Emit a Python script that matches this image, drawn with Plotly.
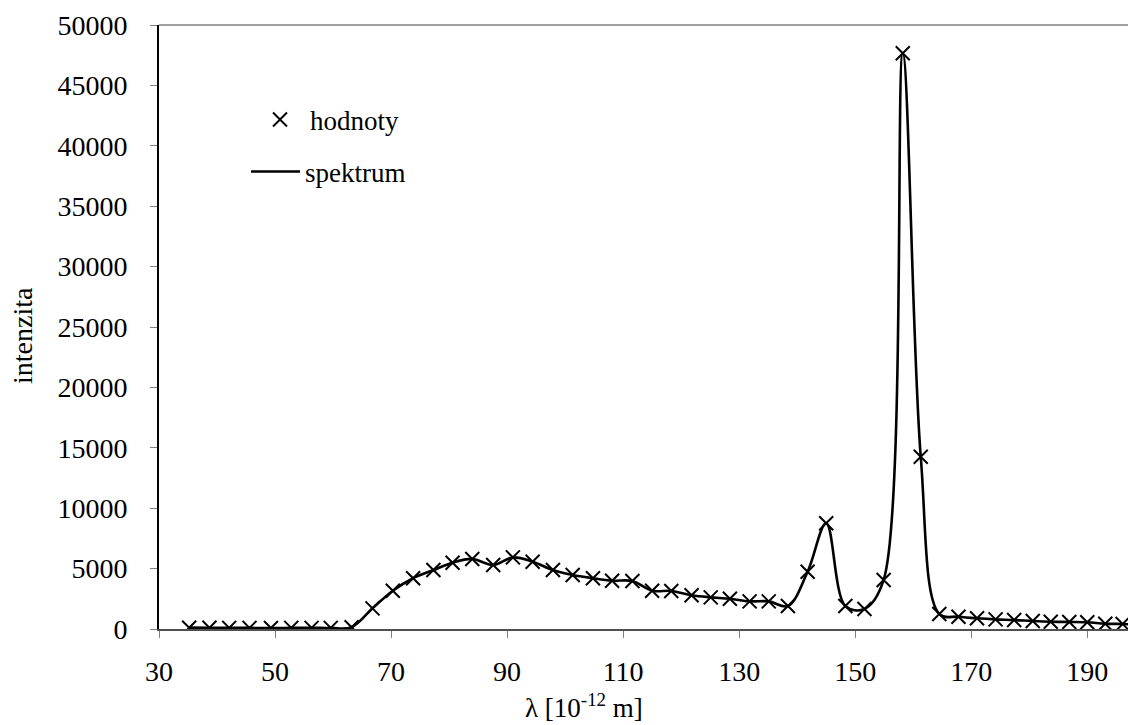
import plotly.graph_objects as go

# wavelength [10^-12 m]
wavelength = [35.2, 38.7, 42.1, 45.6, 49.3, 52.8, 56.3, 59.6, 63.2, 66.8,
              70.3, 73.8, 77.3, 80.6, 84.0, 87.6, 91.0, 94.4, 97.9, 101.3,
              104.8, 108.1, 111.6, 115.0, 118.3, 121.8, 125.1, 128.4, 131.8, 135.1,
              138.4, 141.8, 145.0, 148.3, 151.6, 154.9, 158.2, 161.3, 164.5, 167.8,
              171.0, 174.2, 177.4, 180.6, 183.7, 186.9, 190.0, 193.1, 196.1, 198.3]
# intensity
intensity = [110, 100, 95, 90, 85, 90, 95, 90, 150, 1710,
             3170, 4200, 4880, 5490, 5800, 5300, 5930, 5570, 4880, 4470,
             4200, 4000, 3970, 3170, 3150, 2790, 2620, 2510, 2290, 2290,
             1900, 4740, 8750, 1900, 1660, 4060, 47660, 14260, 1240, 1020,
             890, 800, 745, 660, 600, 580, 555, 440, 415, 370]

x_ticks = [30, 50, 70, 90, 110, 130, 150, 170, 190]
y_ticks = [0, 5000, 10000, 15000, 20000, 25000, 30000, 35000, 40000, 45000, 50000]

FONT = "Liberation Serif"
OFF = 8  # default page body margin
W, H = 1136 - OFF, 725 - OFF
# plot area in window pixels: left 159, right 1136, top 25, bottom 629
PL, PR, PT, PB = 159, 1136, 25, 629
L, T = PL - OFF, PT - OFF
R = W - (PR - OFF)
B = H - (PB - OFF)
pw = PR - PL
ph = PB - PT


def px_x(p):
    return (p - PL) / pw


def px_y(p):
    return (PB - p) / ph


fig = go.Figure()
fig.add_trace(go.Scatter(
    x=wavelength, y=intensity, mode="markers", name="hodnoty",
    marker=dict(symbol="x-thin", size=14, color="black",
                line=dict(width=2, color="black")),
    legend="legend"))
fig.add_trace(go.Scatter(
    x=wavelength, y=intensity, mode="lines", name="spektrum",
    line=dict(color="black", width=2.6, shape="spline", smoothing=1),
    legend="legend2"))

fig.update_layout(
    width=W, height=H,
    margin=dict(l=L, r=R, t=T, b=B, autoexpand=False),
    paper_bgcolor="white", plot_bgcolor="white",
    font=dict(family=FONT, size=26, color="black"),
    showlegend=True,
    legend=dict(x=px_x(250), y=px_y(120), xanchor="left", yanchor="middle",
                itemwidth=50, bgcolor="rgba(0,0,0,0)",
                font=dict(family=FONT, size=27, color="black")),
    legend2=dict(x=px_x(246), y=px_y(172), xanchor="left", yanchor="middle",
                 itemwidth=49, bgcolor="rgba(0,0,0,0)",
                 font=dict(family=FONT, size=27, color="black")),
    xaxis=dict(range=[30, 198.4], tickmode="array", tickvals=x_ticks,
               ticktext=[str(v) for v in x_ticks],
               showgrid=False, zeroline=False,
               showline=True, linecolor="#505050", linewidth=2,
               ticks="outside", ticklen=7, tickcolor="#808080", tickwidth=1,
               ticklabelstandoff=9,
               tickfont=dict(family=FONT, size=28, color="black")),
    yaxis=dict(range=[0, 50000], tickmode="array", tickvals=y_ticks,
               ticktext=[str(v) for v in y_ticks],
               showgrid=False, zeroline=False,
               showline=True, linecolor="black", linewidth=2,
               ticks="outside", ticklen=7, tickcolor="#808080", tickwidth=1,
               ticklabelstandoff=17,
               tickfont=dict(family=FONT, size=28, color="black")),
    shapes=[dict(type="line", xref="paper", yref="paper", x0=0, x1=1, y0=1, y1=1,
                 line=dict(color="#a0a0a0", width=2))],
    annotations=[
        dict(text="λ [10<sup>-12</sup> m]", xref="paper", yref="paper",
             x=px_x(584), y=px_y(706), xanchor="center", yanchor="middle",
             showarrow=False, font=dict(family=FONT, size=27, color="black")),
        dict(text="intenzita", xref="paper", yref="paper", textangle=-90,
             x=px_x(22), y=px_y(336), xanchor="center", yanchor="middle",
             showarrow=False, font=dict(family=FONT, size=28, color="black")),
    ],
)

fig.write_html("out.html")
